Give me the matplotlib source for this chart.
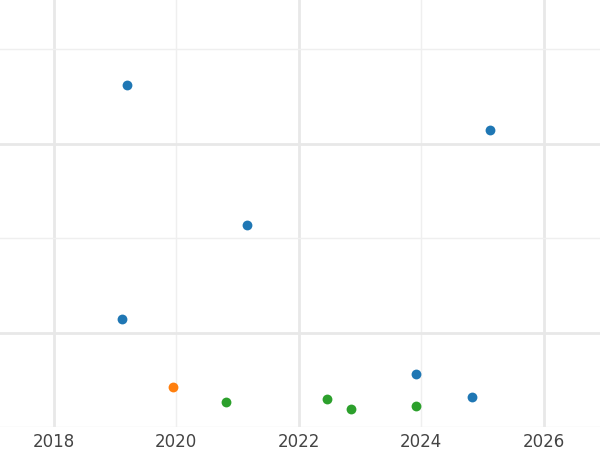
import matplotlib
matplotlib.use("Agg")
import matplotlib.pyplot as plt
import matplotlib.dates as mdates
from matplotlib.ticker import MultipleLocator, FixedLocator
import pandas as pd

# series data
blue_dates = ["2019-03-15", "2025-02-15", "2021-03-01", "2019-02-15", "2023-12-01", "2024-11-01"]
blue_vals = [231, 207, 157, 107, 78, 66]
orange_dates = ["2019-12-15"]
orange_vals = [71]
green_dates = ["2020-10-25", "2022-06-20", "2022-11-10", "2023-12-01"]
green_vals = [63.5, 64.6, 59.3, 61.4]

major_years = ["2018-01-01", "2022-01-01", "2026-01-01"]
minor_years = ["2020-01-01", "2024-01-01"]

series = [
    (blue_dates, blue_vals, "#1f77b4"),
    (orange_dates, orange_vals, "#ff7f0e"),
    (green_dates, green_vals, "#2ca02c"),
]

fig = plt.figure(figsize=(6, 4.5), dpi=100)
ax = fig.add_axes([0, 0.051, 1, 0.949])

for dates, vals, color in series:
    ax.scatter(pd.to_datetime(dates), vals, s=50, color=color, linewidths=0, zorder=3)

ax.set_xlim(pd.Timestamp("2017-02-15"), pd.Timestamp("2026-12-01"))
ax.set_ylim(50, 276)

fmt = mdates.DateFormatter("%Y")
ax.xaxis.set_major_locator(FixedLocator(mdates.date2num(pd.to_datetime(major_years))))
ax.xaxis.set_minor_locator(FixedLocator(mdates.date2num(pd.to_datetime(minor_years))))
ax.xaxis.set_major_formatter(fmt)
ax.xaxis.set_minor_formatter(fmt)
ax.yaxis.set_major_locator(MultipleLocator(100))
ax.yaxis.set_minor_locator(MultipleLocator(50))

ax.grid(which="major", color="#e8e8e8", linewidth=2)
ax.grid(which="minor", color="#efefef", linewidth=1)
ax.set_axisbelow(True)

ax.tick_params(which="both", length=0)
ax.tick_params(axis="x", which="both", labelsize=12, labelcolor="#444444", pad=4)
ax.set_yticklabels([])
ax.set_yticklabels([], minor=True)
for s in ax.spines.values():
    s.set_visible(False)

fig.savefig("out.png", dpi=100)
